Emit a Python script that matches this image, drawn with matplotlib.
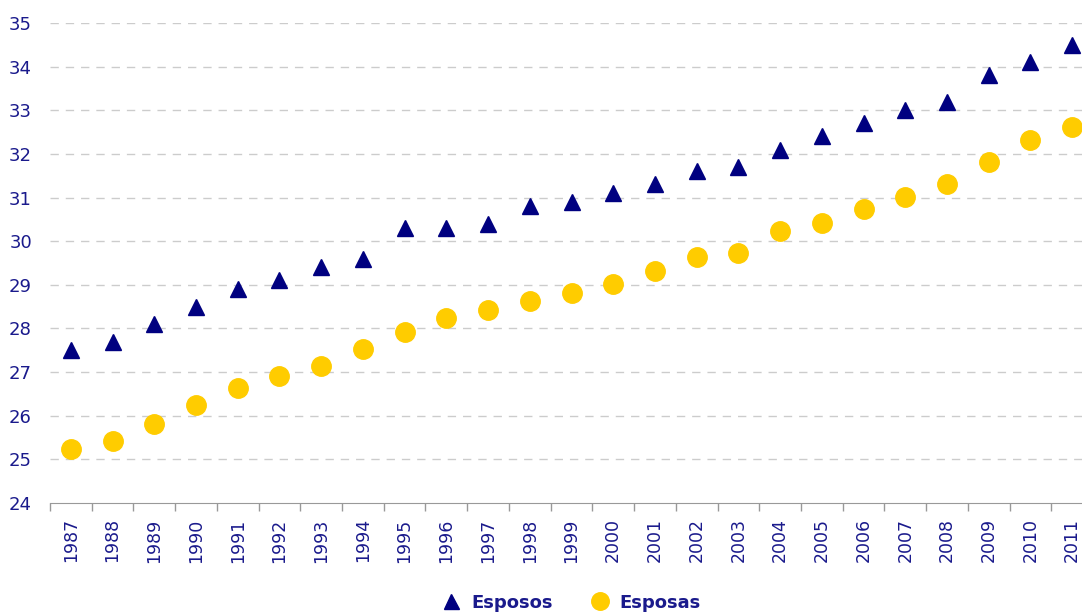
import matplotlib.pyplot as plt
import numpy as np

years = [str(y) for y in range(1987, 2012)]
esposos = [27.5, 27.7, 28.1, 28.5, 28.9, 29.1, 29.4, 29.6, 30.3, 30.3, 30.4, 30.8, 30.9,
           31.1, 31.3, 31.6, 31.7, 32.1, 32.4, 32.7, 33.0, 33.2, 33.8, 34.1, 34.5]
esposas = [25.23, 25.41, 25.8, 26.24, 26.63, 26.9, 27.13, 27.52, 27.91, 28.23, 28.42, 28.62, 28.81,
           29.01, 29.31, 29.63, 29.72, 30.23, 30.41, 30.73, 31.01, 31.31, 31.81, 32.32, 32.61]

text_col = "#1a1a8c"
fig = plt.figure(figsize=(10.82, 6.12), dpi=100)
ax = fig.add_axes([50 / 1082, 1 - 503 / 612, 1043 / 1082, 480 / 612])

x = np.arange(len(years))
ax.plot(x, esposos, "^", color="#000080", ms=12, ls="none", label="Esposos")
ax.plot(x, esposas, "o", color="#ffcc00", ms=14, ls="none", label="Esposas")

ax.set_xlim(-0.5, len(years) - 0.5)
ax.set_ylim(24, 35)
ax.set_yticks(range(24, 36))
ax.set_xticks(x)
ax.set_xticklabels(years, rotation=90, fontsize=12.5, color=text_col)
ax.set_xticks(np.arange(-0.5, len(years)), minor=True)
ax.tick_params(axis="x", which="major", length=0, pad=11)
ax.tick_params(axis="x", which="minor", length=6, color="#999999", width=1)
ax.tick_params(axis="y", length=0, labelsize=13, labelcolor=text_col, pad=13)

for v in range(25, 36):
    ax.axhline(v, color="#cccccc", lw=1, ls=(0, (6, 5)), zorder=0)

for s in ["top", "right", "left"]:
    ax.spines[s].set_visible(False)
ax.spines["bottom"].set_color("#999999")

leg = fig.legend(loc="lower center", bbox_to_anchor=(0.524, -0.026), ncol=2, frameon=False,
                 handletextpad=0.1, columnspacing=1.6, markerscale=0.9,
                 prop={"weight": "bold", "size": 13})
for t in leg.get_texts():
    t.set_color(text_col)

fig.savefig("out.png", dpi=100)
